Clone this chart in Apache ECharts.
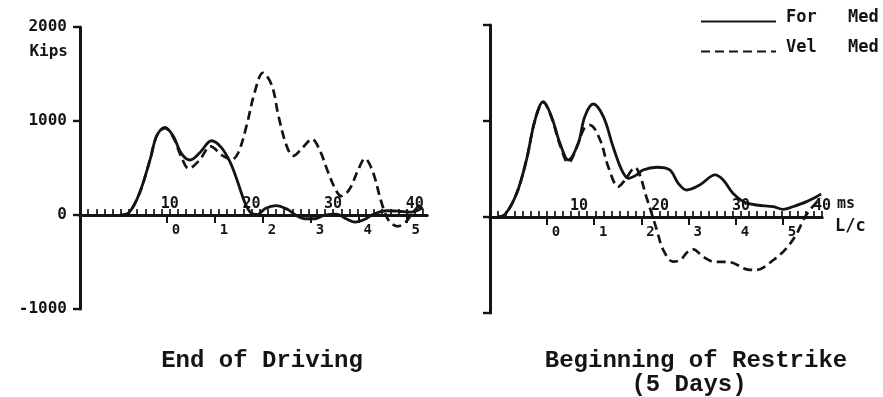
<!DOCTYPE html>
<html>
<head>
<meta charset="utf-8">
<script src="https://cdn.jsdelivr.net/npm/echarts@6/dist/echarts.min.js"></script>
<style>
  html, body { margin: 0; padding: 0; background: #ffffff; }
  #chart { width: 883px; height: 397px; }
</style>
</head>
<body>
<div id="chart"></div>
<script>
// Force and velocity (x impedance) records, [time in ms, kips]
// End of driving
const eodForce = [
  [4.0, 0], [5.0, 25], [6.3, 235], [7.6, 594], [8.4, 843], [9.4, 933], [10.4, 843],
  [11.45, 650], [12.5, 585], [13.7, 665], [15.1, 790], [16.3, 720], [17.4, 560],
  [18.2, 380], [19.2, 130], [19.9, 25], [20.7, 5], [21.7, 70], [23.0, 100], [24.4, 60],
  [25.4, 0], [26.6, -40], [27.8, -40], [29.0, 0], [30.4, 10], [31.6, -40], [32.7, -75],
  [33.9, -45], [35.0, 10], [36.5, 45], [38.0, 40], [39.5, 30], [41.0, 80]
];
const eodVelocity = [
  [4.0, 0], [5.0, 25], [6.3, 235], [7.6, 594], [8.4, 843], [9.4, 925], [10.4, 830],
  [11.4, 620], [12.3, 495], [13.6, 580], [15.0, 730], [16.4, 635], [17.6, 590],
  [18.4, 665], [19.4, 950], [20.4, 1307], [21.4, 1513], [22.5, 1378], [23.3, 1057],
  [24.3, 736], [25.1, 629], [26.3, 719], [27.4, 808], [28.4, 682], [29.4, 451],
  [30.4, 255], [31.0, 201], [32.0, 273], [33.1, 487], [33.9, 601], [34.9, 451],
  [35.7, 201], [36.2, 60], [36.9, -70], [37.9, -120], [38.9, -75], [39.7, 20], [40.6, 110]
];
// Beginning of restrike (5 days)
const borForce = [
  [0.0, 0], [0.9, 30], [2.3, 247], [3.5, 594], [4.56, 1010], [5.58, 1201], [6.6, 1045],
  [7.64, 768], [8.67, 594], [9.9, 768], [10.7, 1045], [11.75, 1177], [13.0, 1045],
  [14.2, 732], [15.26, 490], [16.1, 403], [17.1, 438], [17.9, 490], [19.6, 518],
  [21.2, 490], [22.25, 351], [23.3, 281], [24.9, 333], [26.8, 438], [27.8, 385],
  [29.0, 247], [30.3, 160], [31.9, 125], [34.0, 107], [35.2, 80], [36.4, 107],
  [38.1, 160], [39.9, 240]
];
const borVelocity = [
  [0.0, 0], [0.9, 30], [2.3, 247], [3.5, 594], [4.56, 1010], [5.58, 1195], [6.6, 1035],
  [7.64, 750], [8.67, 566], [9.9, 768], [10.6, 920], [11.35, 958], [12.6, 802],
  [13.6, 524], [14.84, 316], [15.67, 385], [16.5, 490], [16.9, 518], [17.5, 438],
  [18.3, 212], [18.96, 38], [19.6, -135], [20.4, -344], [21.6, -465], [22.5, -448],
  [23.4, -365], [24.1, -337], [25.3, -413], [26.6, -465], [28.6, -470], [30.7, -545],
  [31.9, -552], [34.0, -448], [35.6, -326], [36.9, -170], [37.7, -31], [38.5, 73], [39.9, 200]
];

// Axis ticks and labels
const kipsLabels = [-1000, 0, 1000, 2000];
const msLabels = [10, 20, 30, 40];
const lcLabels = [0, 1, 2, 3, 4, 5];
const msTicksEod = Array.from({ length: 43 }, (_, i) => i - 1);
const msTicksBor = Array.from({ length: 42 }, (_, i) => i - 1);

// L/c scale of each record: time (ms) where L/c = 0, and ms per L/c
const eodLc = [9.65, 5.875];
const borLc = [6.04, 5.83];

const INK = '#141414';
const MONO = 'DejaVu Sans Mono';
const TYPE = 'Liberation Mono';

const panels = [
  { grid: { left: 80, top: 27, width: 347, height: 282 }, tMax: 41.5, ticks: msTicksEod, lc: eodLc,
    force: eodForce, velocity: eodVelocity, showKips: true, units: false },
  { grid: { left: 490, top: 25, width: 332, height: 288 }, tMax: 40, ticks: msTicksBor, lc: borLc,
    force: borForce, velocity: borVelocity, showKips: false, units: true }
];
const tMin = -1, kMin = -1000, kMax = 2000;
const plain = v => String(v);

const grid = [], xAxis = [], yAxis = [], series = [];
panels.forEach((p, i) => {
  grid.push(p.grid);
  // both horizontal axes sit on the zero-kips line
  const zeroOffset = -p.grid.height * (0 - kMin) / (kMax - kMin);
  // time axis (ms): ticks and labels above the line
  xAxis.push({
    type: 'value', gridIndex: i, position: 'bottom', offset: zeroOffset, min: tMin, max: p.tMax,
    axisLine: { onZero: false, lineStyle: { color: INK, width: 3 } },
    axisTick: { inside: true, length: 6, customValues: p.ticks, lineStyle: { color: INK, width: 1.7 } },
    axisLabel: { inside: true, margin: 3, customValues: msLabels, formatter: plain, color: INK,
      fontFamily: MONO, fontWeight: 'bold', fontSize: 15 },
    splitLine: { show: false },
    name: p.units ? 'ms' : '', nameLocation: 'end', nameGap: 8,
    nameTextStyle: { color: INK, fontFamily: MONO, fontWeight: 'bold', fontSize: 15,
      align: 'left', verticalAlign: 'bottom', padding: [0, 0, 5, 0] }
  });
  // L/c axis on the same line, ticks pointing down
  xAxis.push({
    type: 'value', gridIndex: i, position: 'bottom', offset: zeroOffset,
    min: (tMin - p.lc[0]) / p.lc[1], max: (p.tMax - p.lc[0]) / p.lc[1],
    axisLine: { onZero: false, lineStyle: { color: INK, width: 3 } },
    axisTick: { inside: false, length: 8, customValues: lcLabels, lineStyle: { color: INK, width: 2 } },
    axisLabel: { margin: 8, customValues: lcLabels, formatter: plain, color: INK, padding: [0, 0, 0, 18],
      fontFamily: MONO, fontWeight: 'bold', fontSize: 14 },
    splitLine: { show: false },
    name: p.units ? 'L/c' : '', nameLocation: 'end', nameGap: 13,
    nameTextStyle: { color: INK, fontFamily: MONO, fontWeight: 'bold', fontSize: 17,
      align: 'left', verticalAlign: 'top', padding: [1, 0, 0, 0] }
  });
  yAxis.push({
    type: 'value', gridIndex: i, min: kMin, max: kMax, interval: 1000,
    axisLine: { onZero: false, lineStyle: { color: INK, width: 3 } },
    axisTick: { inside: false, length: 7, lineStyle: { color: INK, width: 2.4 } },
    axisLabel: { show: p.showKips, margin: 13, customValues: kipsLabels, formatter: plain, color: INK,
      fontFamily: MONO, fontWeight: 'bold', fontSize: 16 },
    splitLine: { show: false },
    name: p.showKips ? 'Kips' : '', nameLocation: 'end', nameGap: -25,
    nameTextStyle: { color: INK, fontFamily: MONO, fontWeight: 'bold', fontSize: 16,
      align: 'right', verticalAlign: 'middle', padding: [0, 12, 0, 0] }
  });
  const lineBase = { type: 'line', xAxisIndex: i * 2, yAxisIndex: i, smooth: 0.35,
    symbol: 'none', showSymbol: false, animation: false };
  series.push(Object.assign({}, lineBase, {
    name: 'For Med', data: p.force, z: 3,
    lineStyle: { color: INK, width: 2.8, type: 'solid' }, itemStyle: { color: INK }
  }));
  series.push(Object.assign({}, lineBase, {
    name: 'Vel Med', data: p.velocity, z: 2,
    lineStyle: { color: INK, width: 2.7, type: [9, 5] }, itemStyle: { color: INK }
  }));
});

const titleStyle = { fontFamily: TYPE, fontWeight: 'bold', fontSize: 24, color: INK, lineHeight: 25 };
const legendText = { color: INK, fontFamily: MONO, fontWeight: 'bold', fontSize: 17 };

const chart = echarts.init(document.getElementById('chart'), null, { renderer: 'canvas' });
chart.setOption({
  backgroundColor: '#ffffff',
  animation: false,
  title: [
    { text: 'End of Driving', left: 262, top: 348, padding: 0, textAlign: 'center', textStyle: titleStyle },
    { text: 'Beginning of Restrike', left: 696, top: 348, padding: 0, textAlign: 'center', textStyle: titleStyle },
    { text: '(5 Days)', left: 689, top: 372, padding: 0, textAlign: 'center', textStyle: titleStyle }
  ],
  legend: {
    orient: 'vertical', left: 700, top: 9, padding: 0, itemWidth: 75, itemHeight: 16, itemGap: 11,
    data: ['For Med', 'Vel Med'], selectedMode: false,
    itemStyle: { opacity: 0 },
    formatter: name => {
      const parts = name.split(' ');
      return '{a|' + parts[0] + '}{b|' + parts[1] + '}';
    },
    textStyle: Object.assign({}, legendText, {
      rich: {
        a: Object.assign({ width: 62, padding: [0, 0, 8, 5] }, legendText),
        b: Object.assign({ padding: [0, 0, 8, 0] }, legendText)
      }
    })
  },
  grid, xAxis, yAxis, series
});
</script>
</body>
</html>
